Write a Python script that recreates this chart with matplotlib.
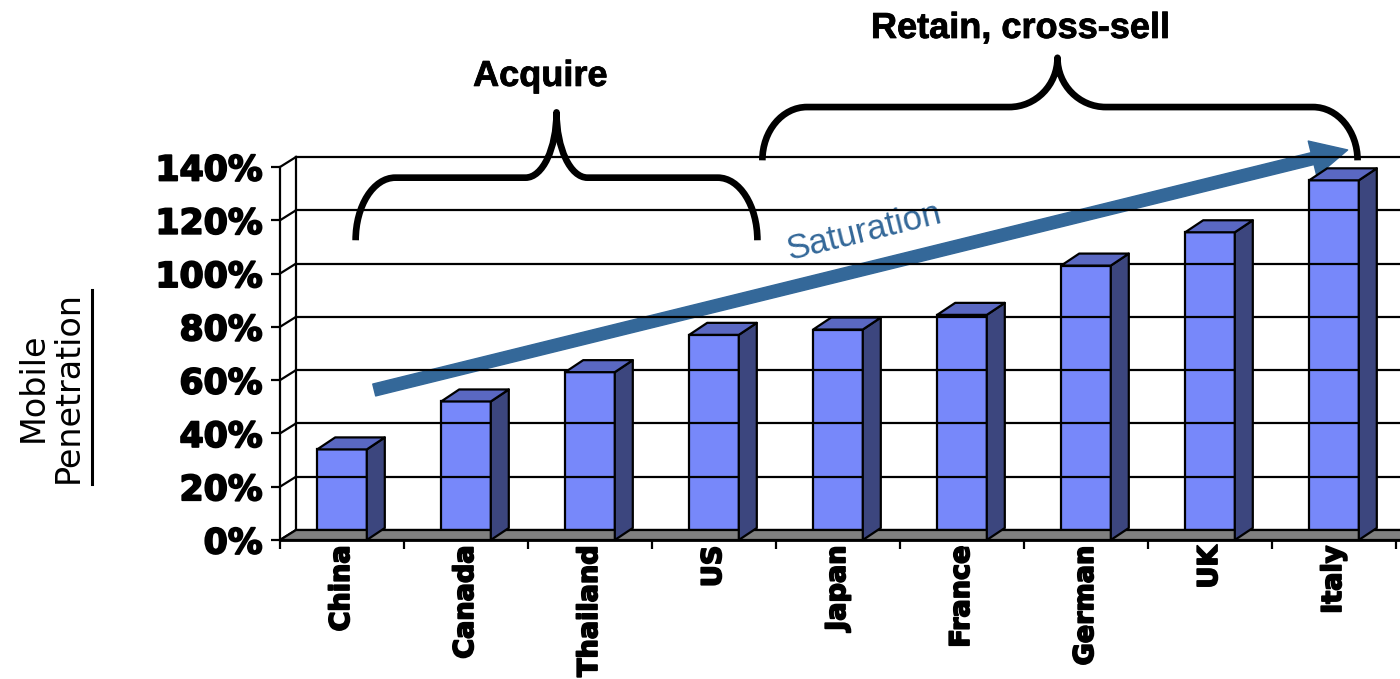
import matplotlib
matplotlib.use("Agg")
import matplotlib.pyplot as plt
import matplotlib.patheffects as pe
from matplotlib.patches import Polygon, PathPatch, FancyArrowPatch
from matplotlib.path import Path
from matplotlib.lines import Line2D
from matplotlib.transforms import IdentityTransform
import numpy as np

# ---- data -------------------------------------------------------------
countries = ["China", "Canada", "Thailand", "US", "Japan",
             "France", "German", "UK", "Italy"]
penetration = [34, 52, 63, 77, 79, 84.5, 103, 115.5, 135]   # percent
y_ticks = [0, 20, 40, 60, 80, 100, 120, 140]
y_tick_labels = [f"{v}%" for v in y_ticks]

# ---- style ------------------------------------------------------------
FRONT = "#7788FA"
SIDE = "#3C467E"
TOP = "#5A68C2"
FLOOR = "#808080"
ARROW = "#346899"
DPI = 100
W, H = 1400, 679

WALL_D = (16, 10)     # depth of back wall / floor, px
BAR_D = (18, 12)      # depth of each column, px
BAR_W = 0.40          # column width in category units

heavy = [pe.withStroke(linewidth=1.3, foreground="black")]
semi = [pe.withStroke(linewidth=0.6, foreground="black")]

fig = plt.figure(figsize=(W / DPI, H / DPI), dpi=DPI)
ax = fig.add_axes([280 / W, 1 - 540 / H, 1116 / W, 373 / H])
ax.set_xlim(0, len(countries))
ax.set_ylim(0, 140)
ax.patch.set_visible(False)
for s in ("top", "right", "bottom"):
    ax.spines[s].set_visible(False)
ax.spines["left"].set_linewidth(1.6)
ax.spines["left"].set_zorder(3)

ident = IdentityTransform()


def disp(x, y, d=(0, 0)):
    px, py = ax.transData.transform((x, y))
    return (px + d[0], py + d[1])


def poly(pts, **kw):
    p = Polygon(pts, closed=True, transform=ident, clip_on=False, **kw)
    fig.add_artist(p)
    return p


def seg(p0, p1, **kw):
    ln = Line2D([p0[0], p1[0]], [p0[1], p1[1]], transform=ident, **kw)
    fig.add_artist(ln)
    return ln


# back wall gridlines and left wall edges
for v in y_ticks:
    seg(disp(0, v, WALL_D), disp(len(countries) + 0.3, v, WALL_D),
        color="black", lw=1.6, zorder=1)
    seg(disp(0, v), disp(0, v, WALL_D), color="black", lw=1.6, zorder=1)
seg(disp(0, 0, WALL_D), disp(0, 140, WALL_D), color="black", lw=1.6, zorder=1)

# floor
n = len(countries)
poly([disp(0, 0), disp(n + 0.3, 0), disp(n + 0.3, 0, WALL_D), disp(0, 0, WALL_D)],
     facecolor=FLOOR, edgecolor="black", lw=1.6, zorder=1.5)
seg(disp(0, 0), disp(n + 0.3, 0), color="black", lw=2.0, zorder=1.6)

# columns: front faces through ax.bar, depth faces from their geometry
xs = np.arange(n) + 0.5
bars = ax.bar(xs, penetration, width=BAR_W, color=FRONT, edgecolor="black",
              linewidth=1.6, zorder=4)
for b in bars:
    x0, x1 = b.get_x(), b.get_x() + b.get_width()
    h = b.get_height()
    poly([disp(x1, 0), disp(x1, 0, BAR_D), disp(x1, h, BAR_D), disp(x1, h)],
         facecolor=SIDE, edgecolor="black", lw=1.6, zorder=3.5, joinstyle="round")
    poly([disp(x0, h), disp(x1, h), disp(x1, h, BAR_D), disp(x0, h, BAR_D)],
         facecolor=TOP, edgecolor="black", lw=1.6, zorder=3.5, joinstyle="round")

# axes ticks
ax.set_yticks(y_ticks)
ax.set_yticklabels(y_tick_labels, fontfamily="DejaVu Sans", fontweight="bold",
                   fontsize=25)
for t in ax.get_yticklabels():
    t.set_path_effects(heavy)
ax.tick_params(axis="y", length=6.5, width=1.6, pad=6)
ax.set_xticks(np.arange(n + 1))
ax.set_xticklabels([])
ax.tick_params(axis="x", which="major", length=6.5, width=1.6, direction="out")
ax.set_xticks(xs, minor=True)
ax.set_xticklabels(countries, minor=True, rotation=90, fontfamily="DejaVu Sans",
                   fontweight="bold", fontsize=19.5, va="top", ha="center")
for t in ax.get_xticklabels(minor=True):
    t.set_path_effects(heavy)
ax.tick_params(axis="x", which="minor", length=0, pad=4)

# axis title, second line underlined
fig.text(33 / W, 1 - 387 / H, "Mobile", rotation=90, fontsize=24,
         fontfamily="DejaVu Sans", ha="center", va="center")
pen = fig.text(68 / W, 1 - 387 / H, "Penetration", rotation=90, fontsize=24,
               fontfamily="DejaVu Sans", ha="center", va="center")
fig.canvas.draw()
bb = pen.get_window_extent()
seg((bb.x1 + 7, bb.y0 - 1), (bb.x1 + 7, bb.y1 + 1), color="black", lw=2.2)


# curly braces
def brace(xl, xr, xc, y_end, y_bar, y_peak, rx_arm, rx_mid, lw=4.8):
    k = 0.5523
    ry_arm = y_bar - y_end
    ry_mid = y_peak - y_bar
    P = [(xl, y_end)]
    C = [Path.MOVETO]
    P += [(xl, y_end + k * ry_arm), (xl + rx_arm * (1 - k), y_bar), (xl + rx_arm, y_bar)]
    C += [Path.CURVE4] * 3
    P += [(xc - rx_mid, y_bar)]
    C += [Path.LINETO]
    P += [(xc - rx_mid * (1 - k), y_bar), (xc, y_peak - k * ry_mid), (xc, y_peak)]
    C += [Path.CURVE4] * 3
    P += [(xc, y_peak - k * ry_mid), (xc + rx_mid * (1 - k), y_bar), (xc + rx_mid, y_bar)]
    C += [Path.CURVE4] * 3
    P += [(xr - rx_arm, y_bar)]
    C += [Path.LINETO]
    P += [(xr - rx_arm * (1 - k), y_bar), (xr, y_end + k * ry_arm), (xr, y_end)]
    C += [Path.CURVE4] * 3
    pp = PathPatch(Path(P, C), facecolor="none", edgecolor="black", lw=lw,
                   transform=ax.transData, clip_on=False, zorder=6,
                   capstyle="butt", joinstyle="round")
    ax.add_patch(pp)


brace(0.61, 3.85, 2.23, 112.5, 136, 160.5, 0.32, 0.25)
brace(3.89, 8.69, 6.27, 142.5, 162.5, 181, 0.36, 0.39)

ax.text(2.10, 174, "Acquire", fontsize=26, fontweight="bold",
        fontfamily="Liberation Sans", ha="center", va="center",
        path_effects=semi)
ax.text(5.97, 192, "Retain, cross-sell", fontsize=26, fontweight="bold",
        fontfamily="Liberation Sans", ha="center", va="center",
        path_effects=semi)

# saturation trend arrow
arr = FancyArrowPatch((0.76, 56.3), (8.61, 146.4), transform=ax.transData,
                      arrowstyle="simple,head_length=26,head_width=26,tail_width=8.8",
                      mutation_scale=1, color=ARROW, shrinkA=0, shrinkB=0,
                      clip_on=False, zorder=7)
ax.add_patch(arr)
ang = np.degrees(np.arctan2(240, 974))
ax.text(4.71, 115.5, "Saturation", fontsize=25, color=ARROW,
        fontfamily="Liberation Sans", rotation=ang, rotation_mode="anchor",
        ha="center", va="center")

fig.savefig("out.png", dpi=DPI)
